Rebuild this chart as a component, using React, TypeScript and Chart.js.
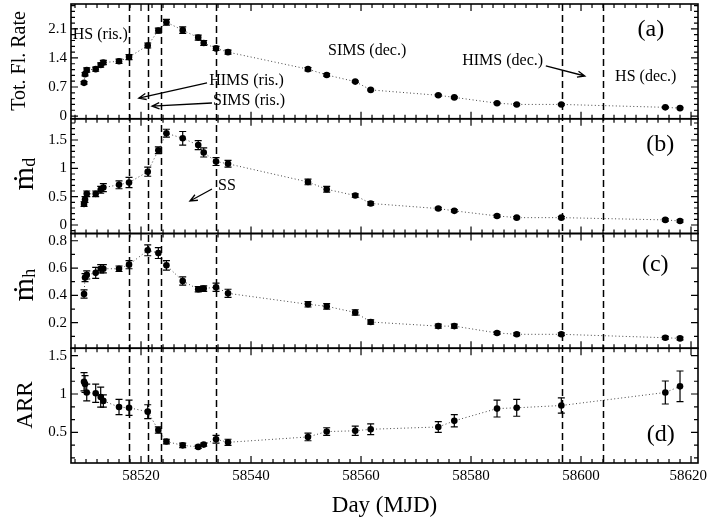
import { useEffect, useRef } from 'react';
import { Chart, registerables } from 'chart.js';

Chart.register(...registerables);

// observation days (MJD)
const days = [
  58509.64, 58509.82, 58510.13, 58511.76, 58512.67, 58513.15, 58516.0, 58517.82,
  58521.22, 58523.15, 58524.62, 58527.58, 58530.4, 58531.4, 58533.64, 58535.82,
  58550.36, 58553.76, 58558.95, 58561.76, 58574.05, 58576.96, 58584.73, 58588.31,
  58596.42, 58615.33, 58618.0,
];

// (a) total flow rate
const totRate = [
  0.80, 1.01, 1.11, 1.13, 1.23, 1.29, 1.32, 1.42, 1.70, 2.06, 2.26, 2.07, 1.89, 1.76,
  1.63, 1.54, 1.13, 0.99, 0.83, 0.63, 0.50, 0.45, 0.31, 0.28, 0.28, 0.21, 0.19,
];
const totRateErr = [
  0.03, 0.04, 0.05, 0.05, 0.05, 0.05, 0.05, 0.06, 0.06, 0.06, 0.07, 0.08, 0.06, 0.06,
  0.05, 0.05, 0.04, 0.03, 0.02, 0.02, 0.02, 0.02, 0.02, 0.02, 0.02, 0.02, 0.02,
];

// (b) disc rate
const mdotD = [
  0.37, 0.45, 0.55, 0.55, 0.62, 0.66, 0.71, 0.75, 0.94, 1.32, 1.62, 1.53, 1.41, 1.28,
  1.12, 1.08, 0.76, 0.63, 0.52, 0.38, 0.29, 0.25, 0.16, 0.13, 0.13, 0.09, 0.07,
];
const mdotDErr = [
  0.04, 0.05, 0.05, 0.05, 0.06, 0.07, 0.07, 0.09, 0.08, 0.06, 0.07, 0.12, 0.08, 0.08,
  0.07, 0.06, 0.05, 0.05, 0.03, 0.03, 0.02, 0.02, 0.02, 0.02, 0.02, 0.02, 0.02,
];

// (c) halo rate
const mdotH = [
  0.41, 0.53, 0.55, 0.565, 0.595, 0.595, 0.595, 0.625, 0.73, 0.71, 0.62, 0.505, 0.445, 0.45,
  0.46, 0.415, 0.335, 0.32, 0.275, 0.205, 0.175, 0.175, 0.125, 0.115, 0.115, 0.09, 0.085,
];
const mdotHErr = [
  0.03, 0.03, 0.03, 0.04, 0.03, 0.03, 0.02, 0.03, 0.04, 0.04, 0.035, 0.03, 0.02, 0.02,
  0.03, 0.03, 0.02, 0.02, 0.02, 0.015, 0.015, 0.015, 0.01, 0.01, 0.01, 0.01, 0.01,
];

// (d) ARR
const arr = [
  1.16, 1.13, 1.02, 1.01, 0.96, 0.91, 0.83, 0.82, 0.77, 0.53, 0.38, 0.33, 0.31, 0.34,
  0.41, 0.37, 0.44, 0.51, 0.52, 0.54, 0.57, 0.65, 0.81, 0.82, 0.85, 1.02, 1.10,
];
const arrErr = [
  0.12, 0.11, 0.11, 0.12, 0.13, 0.08, 0.10, 0.10, 0.09, 0.04, 0.03, 0.03, 0.02, 0.02,
  0.05, 0.04, 0.05, 0.05, 0.06, 0.07, 0.07, 0.08, 0.11, 0.11, 0.10, 0.15, 0.20,
];

// state transition days (dashed lines)
const stateDays = [58517.8, 58521.3, 58523.6, 58533.6, 58596.5, 58604.0];

const xTicks = [58520, 58540, 58560, 58580, 58600, 58620];
const aTicks = [0, 0.7, 1.4, 2.1];
const bTicks = [0, 0.5, 1, 1.5];
const cTicks = [0.2, 0.4, 0.6, 0.8];
const dTicks = [0.5, 1, 1.5];

const X_MIN = 58507.27;
const X_MAX = 58621.27;

const serif = '"Liberation Serif", "Times New Roman", "DejaVu Serif", serif';

const panels = [
  { id: 'ya', min: -0.065, max: 2.7, ticks: aTicks, minor: 0.14, weight: 4, vals: totRate, err: totRateErr },
  { id: 'yb', min: -0.15, max: 1.875, ticks: bTicks, minor: 0.1, weight: 3, vals: mdotD, err: mdotDErr },
  { id: 'yc', min: 0.013, max: 0.853, ticks: cTicks, minor: 0.1, weight: 2, vals: mdotH, err: mdotHErr },
  { id: 'yd', min: 0.1, max: 1.597, ticks: dTicks, minor: 1 / 6, weight: 1, vals: arr, err: arrErr },
];

const notes = [
  { text: 'HS (ris.)', axis: 'ya', x: 58507.6, y: 1.955 },
  { text: 'HIMS (ris.)', axis: 'ya', x: 58532.4, y: 0.845 },
  { text: 'SIMS (ris.)', axis: 'ya', x: 58533.1, y: 0.362 },
  { text: 'SIMS (dec.)', axis: 'ya', x: 58554.0, y: 1.569 },
  { text: 'HIMS (dec.)', axis: 'ya', x: 58578.4, y: 1.328 },
  { text: 'HS (dec.)', axis: 'ya', x: 58606.2, y: 0.941 },
  { text: 'SS', axis: 'yb', x: 58534.0, y: 0.688 },
];

const arrows = [
  { axis: 'ya', from: [58532.0, 0.797], to: [58519.6, 0.434] },
  { axis: 'ya', from: [58532.9, 0.314], to: [58522.0, 0.241] },
  { axis: 'ya', from: [58593.6, 1.207], to: [58600.7, 0.965] },
  { axis: 'yb', from: [58532.9, 0.635], to: [58528.9, 0.423] },
];

const tags = [
  { text: '(a)', axis: 'ya', x: 58612.7, y: 2.076 },
  { text: '(b)', axis: 'yb', x: 58614.4, y: 1.412 },
  { text: '(c)', axis: 'yc', x: 58613.5, y: 0.622 },
  { text: '(d)', axis: 'yd', x: 58614.5, y: 0.465 },
];

const decor = {
  id: 'decor',
  afterDatasetsDraw(chart: any) {
    const ctx = chart.ctx;
    const { left, right, top, bottom } = chart.chartArea;
    const xs = chart.scales.x;

    ctx.save();
    // error bars
    ctx.strokeStyle = '#000';
    ctx.lineWidth = 1.2;
    panels.forEach((p) => {
      const ys = chart.scales[p.id];
      p.vals.forEach((v, j) => {
        const px = xs.getPixelForValue(days[j]);
        const y1 = ys.getPixelForValue(v + p.err[j]);
        const y2 = ys.getPixelForValue(v - p.err[j]);
        ctx.beginPath();
        ctx.moveTo(px, y1); ctx.lineTo(px, y2);
        ctx.moveTo(px - 3.5, y1); ctx.lineTo(px + 3.5, y1);
        ctx.moveTo(px - 3.5, y2); ctx.lineTo(px + 3.5, y2);
        ctx.stroke();
      });
    });

    // state lines
    ctx.lineWidth = 1.5;
    ctx.setLineDash([7, 4]);
    stateDays.forEach((d) => {
      const px = Math.round(xs.getPixelForValue(d)) + 0.5;
      ctx.beginPath();
      ctx.moveTo(px, top); ctx.lineTo(px, bottom);
      ctx.stroke();
    });
    ctx.setLineDash([]);

    // frames and inward ticks
    panels.forEach((p) => {
      const ys = chart.scales[p.id];
      const pt = ys.top, pb = ys.bottom;
      ctx.lineWidth = 1.6;
      ctx.strokeRect(left, pt, right - left, pb - pt);
      ctx.lineWidth = 1.2;
      ctx.beginPath();
      for (let d = 58508; d <= X_MAX; d += 2) {
        const px = xs.getPixelForValue(d);
        const len = d % 20 === 0 ? 7 : 4;
        ctx.moveTo(px, pt); ctx.lineTo(px, pt + len);
        ctx.moveTo(px, pb); ctx.lineTo(px, pb - len);
      }
      const k0 = Math.ceil(p.min / p.minor - 1e-6);
      const k1 = Math.floor(p.max / p.minor + 1e-6);
      for (let k = k0; k <= k1; k++) {
        const v = k * p.minor;
        const py = ys.getPixelForValue(v);
        const major = p.ticks.some((t) => Math.abs(t - v) < 1e-6);
        const len = major ? 7 : 4;
        ctx.moveTo(left, py); ctx.lineTo(left + len, py);
        ctx.moveTo(right, py); ctx.lineTo(right - len, py);
      }
      ctx.stroke();
    });

    // x tick labels (kept inside the canvas at the right end)
    ctx.fillStyle = '#000';
    ctx.font = `15px ${serif}`;
    ctx.textAlign = 'center';
    ctx.textBaseline = 'top';
    xTicks.forEach((t) => {
      const label = String(t);
      const w = ctx.measureText(label).width;
      let px = xs.getPixelForValue(t);
      px = Math.min(px, chart.width - 1 - w / 2);
      ctx.fillText(label, px, bottom + 6);
    });

    // annotations
    ctx.font = `16px ${serif}`;
    ctx.textAlign = 'left';
    ctx.textBaseline = 'middle';
    notes.forEach((n) => {
      ctx.fillText(n.text, xs.getPixelForValue(n.x), chart.scales[n.axis].getPixelForValue(n.y));
    });
    ctx.lineWidth = 1.3;
    arrows.forEach((a) => {
      const ys = chart.scales[a.axis];
      const x1 = xs.getPixelForValue(a.from[0]), y1 = ys.getPixelForValue(a.from[1]);
      const x2 = xs.getPixelForValue(a.to[0]), y2 = ys.getPixelForValue(a.to[1]);
      const ang = Math.atan2(y1 - y2, x1 - x2);
      ctx.beginPath();
      ctx.moveTo(x1, y1); ctx.lineTo(x2, y2);
      ctx.moveTo(x2 + 8 * Math.cos(ang + 0.4), y2 + 8 * Math.sin(ang + 0.4));
      ctx.lineTo(x2, y2);
      ctx.lineTo(x2 + 8 * Math.cos(ang - 0.4), y2 + 8 * Math.sin(ang - 0.4));
      ctx.stroke();
    });
    ctx.font = `24px ${serif}`;
    ctx.textAlign = 'center';
    tags.forEach((t) => {
      ctx.fillText(t.text, xs.getPixelForValue(t.x), chart.scales[t.axis].getPixelForValue(t.y));
    });

    // axis titles
    ctx.textBaseline = 'alphabetic';
    ctx.font = `23px ${serif}`;
    ctx.fillText('Day (MJD)', (left + right) / 2, 512);

    const rotated = (x: number, y: number, fn: () => void) => {
      ctx.save();
      ctx.translate(x, y);
      ctx.rotate(-Math.PI / 2);
      fn();
      ctx.restore();
    };
    rotated(25, 61, () => {
      ctx.font = `20px ${serif}`;
      ctx.textAlign = 'center';
      ctx.fillText('Tot. Fl. Rate', 0, 0);
    });
    const mdot = (y: number, sub: string) => rotated(33, y, () => {
      ctx.textAlign = 'left';
      ctx.font = `30px ${serif}`;
      const w1 = ctx.measureText('ṁ').width;
      ctx.font = `18px ${serif}`;
      const w2 = ctx.measureText(sub).width;
      const x0 = -(w1 + w2) / 2;
      ctx.font = `30px ${serif}`;
      ctx.fillText('ṁ', x0, 0);
      ctx.font = `18px ${serif}`;
      ctx.fillText(sub, x0 + w1, 2);
    });
    mdot(174, 'd');
    mdot(285, 'h');
    rotated(32, 405, () => {
      ctx.font = `23px ${serif}`;
      ctx.textAlign = 'center';
      ctx.fillText('ARR', 0, 0);
    });
    ctx.restore();
  },
};

export default function App() {
  const canvasRef = useRef<HTMLCanvasElement>(null);
  const chartRef = useRef<Chart | null>(null);

  useEffect(() => {
    if (!canvasRef.current) return;

    const datasets = panels.map((p) => ({
      label: p.id,
      yAxisID: p.id,
      xAxisID: 'x',
      data: days.map((d, i) => ({ x: d, y: p.vals[i] })),
      showLine: true,
      borderColor: '#444',
      borderWidth: 1,
      borderDash: [1, 2.5],
      tension: 0,
      pointRadius: 3.3,
      pointBackgroundColor: '#000',
      pointBorderWidth: 0,
      fill: false,
    }));

    const scales: any = {
      x: {
        type: 'linear',
        position: 'bottom',
        min: X_MIN,
        max: X_MAX,
        grid: { display: false, drawTicks: false },
        border: { display: false },
        ticks: { display: false },
        afterBuildTicks: (s: any) => { s.ticks = xTicks.map((v) => ({ value: v })); },
        afterFit: (s: any) => { s.height = 61; s.paddingLeft = 0; s.paddingRight = 0; },
      },
    };
    panels.forEach((p) => {
      scales[p.id] = {
        type: 'linear',
        position: 'left',
        stack: 'panels',
        stackWeight: 1,
        weight: p.weight,
        min: p.min,
        max: p.max,
        grid: { display: false, drawTicks: false },
        border: { display: false },
        ticks: {
          color: '#000',
          font: { family: serif, size: 15 },
          padding: 4,
          callback: (v: any) => String(v),
        },
        afterBuildTicks: (s: any) => { s.ticks = p.ticks.map((v) => ({ value: v })); },
        afterFit: (s: any) => { s.width = 71; s.paddingTop = 0; s.paddingBottom = 0; },
      };
    });

    if (chartRef.current) chartRef.current.destroy();
    chartRef.current = new Chart(canvasRef.current, {
      type: 'line',
      data: { datasets },
      options: {
        responsive: false,
        animation: false,
        layout: { padding: { left: 0, right: 10, top: 4, bottom: 0 }, autoPadding: false },
        plugins: { legend: { display: false }, tooltip: { enabled: false } },
        scales,
      } as any,
      plugins: [decor],
    } as any);

    return () => {
      chartRef.current?.destroy();
      chartRef.current = null;
    };
  }, []);

  return (
    <div style={{ position: 'absolute', left: 0, top: 0, width: 708, height: 524, background: '#fff' }}>
      <canvas ref={canvasRef} width={708} height={524} style={{ display: 'block' }} />
    </div>
  );
}
